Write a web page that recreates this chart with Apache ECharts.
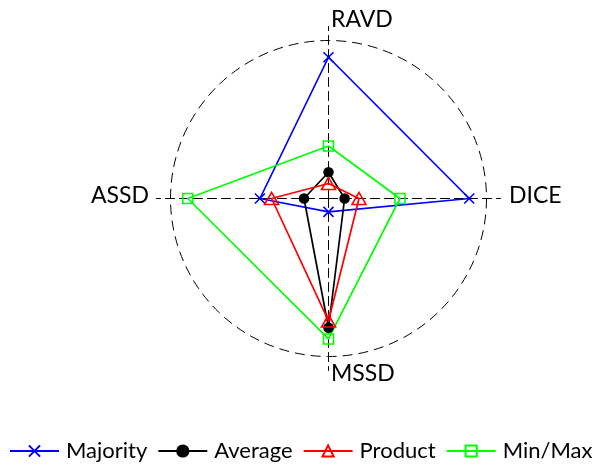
<!DOCTYPE html>
<html>
<head>
<meta charset="utf-8">
<script src="https://cdn.jsdelivr.net/npm/echarts@6/dist/echarts.min.js"></script>
<style>html,body{margin:0;padding:0;background:#fff;}#c{width:604px;height:467px;}</style>
</head>
<body>
<div id="c"></div>
<script>
// Axis categories in radar (counter-clockwise from top) order
var categories = ['RAVD', 'ASSD', 'MSSD', 'DICE'];
var seriesNames = ['Majority', 'Average', 'Product', 'Min/Max'];
// values normalised to the outer circle (= 1)
var majority = [0.894, 0.434, 0.085, 0.891];
var average  = [0.166, 0.155, 0.818, 0.102];
var product  = [0.095, 0.360, 0.775, 0.193];
var minmax   = [0.332, 0.891, 0.889, 0.452];
var axisMax = 1;

var FONT = 'Lato';
var colors = ['#0000ff', '#000000', '#ff0000', '#00ff00'];
var symbols = ['path://M0,0L10,10M10,0L0,10', 'circle', 'triangle', 'rect'];
var symbolSizes = [10, 9, [14, 12], 10];
var fills = ['none', '#000000', 'none', 'none'];
var values = [majority, average, product, minmax];

var indicators = categories.map(function (c) { return { name: c, max: axisMax, min: 0 }; });
var center = [328.5, 198.5];

var radarData = seriesNames.map(function (n, i) {
  return {
    name: n,
    value: values[i],
    symbol: symbols[i],
    symbolSize: symbolSizes[i],
    lineStyle: { color: colors[i], width: 1.7 },
    itemStyle: { color: fills[i], borderColor: colors[i], borderWidth: 1.6 }
  };
});

var legendSeries = seriesNames.map(function (n, i) {
  return {
    type: 'line', name: n, data: [], xAxisIndex: 0, yAxisIndex: 0,
    symbol: symbols[i],
    lineStyle: { color: colors[i], width: 1.7 },
    itemStyle: { color: fills[i], borderColor: colors[i], borderWidth: 1.6 }
  };
});

var chart = echarts.init(document.getElementById('c'), null, { renderer: 'canvas' });
chart.setOption({
  animation: false,
  backgroundColor: '#ffffff',
  grid: { show: false, left: 0, top: 0, width: 1, height: 1 },
  xAxis: { show: false, type: 'value' },
  yAxis: { show: false, type: 'value' },
  legend: {
    data: seriesNames,
    left: 9, top: 440, padding: 0,
    itemWidth: 49, itemHeight: 14, itemGap: 10,
    textStyle: { fontFamily: FONT, fontSize: 22, color: '#000', padding: [0, 0, 0, 2] },
    inactiveColor: '#000'
  },
  radar: [
    {
      center: center, radius: 158, shape: 'circle', splitNumber: 1,
      indicator: indicators,
      axisName: { show: false },
      axisLine: { show: false },
      axisTick: { show: false },
      splitArea: { show: false },
      splitLine: { lineStyle: { color: '#000', width: 1, type: [10, 6] } }
    },
    {
      center: center, radius: 172, shape: 'circle', splitNumber: 1,
      indicator: indicators,
      axisName: { show: false },
      axisLine: { show: true, lineStyle: { color: '#000', width: 1, type: [9, 5] } },
      axisTick: { show: false },
      splitArea: { show: false },
      splitLine: { show: false }
    }
  ],
  graphic: [
    { type: 'text', left: 331, top: 8, style: { text: categories[0], font: '23px ' + FONT, fill: '#000' } },
    { type: 'text', right: 604 - 149, top: 184, style: { text: categories[1], font: '23px ' + FONT, fill: '#000' } },
    { type: 'text', left: 331, top: 362, style: { text: categories[2], font: '23px ' + FONT, fill: '#000' } },
    { type: 'text', left: 509, top: 184, style: { text: categories[3], font: '23px ' + FONT, fill: '#000' } }
  ],
  series: legendSeries.concat([
    {
      type: 'radar', name: 'radar', radarIndex: 0,
      data: radarData
    }
  ])
});
</script>
</body>
</html>
